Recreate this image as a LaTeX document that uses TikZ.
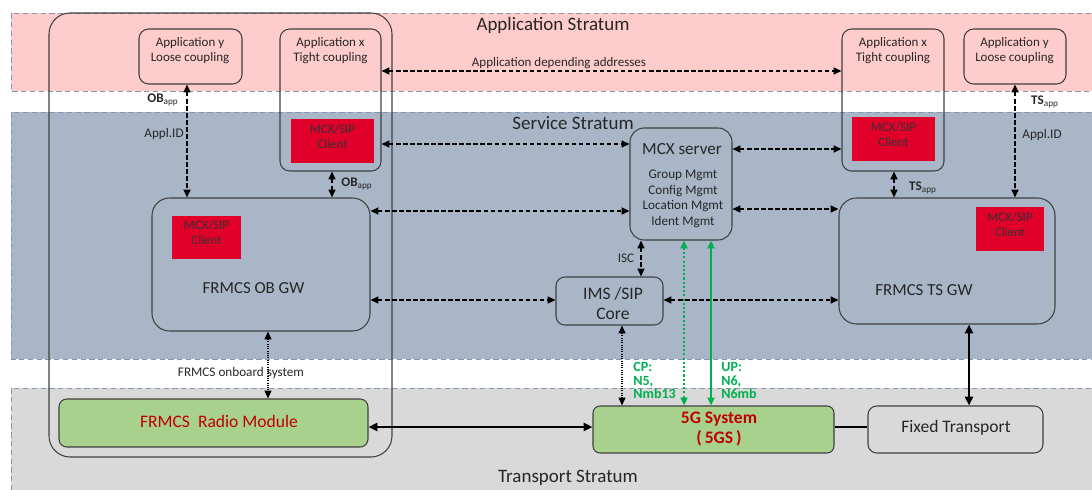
\documentclass[tikz,border=0pt]{standalone}
\usepackage{fontspec}
\setmainfont{Carlito}
\usetikzlibrary{fit,arrows.meta}
\definecolor{apppink}{HTML}{FFCCCC}
\definecolor{servblue}{HTML}{A8B6C8}
\definecolor{transgray}{HTML}{D9D9D9}
\definecolor{bandline}{HTML}{8497B0}
\definecolor{mcxred}{HTML}{E0002A}
\definecolor{radiogreen}{HTML}{A9D18E}
\definecolor{darkred}{HTML}{C00000}
\definecolor{lgreen}{HTML}{00B050}
\definecolor{edgecol}{HTML}{404040}
\definecolor{txtcol}{HTML}{262626}
\begin{document}
\begin{tikzpicture}[x=0.02cm,y=-0.02cm,
  >={Triangle[length=4.5pt,width=4pt]},
  band/.style={draw=bandline, line width=0.5pt, dash pattern=on 3pt off 2pt},
  box/.style={draw=edgecol, line width=0.6pt, inner sep=0pt, rounded corners=#1},
  box/.default=5pt,
  redbox/.style={fill=mcxred, inner sep=0pt, align=center, text=black!80,
     font=\fontsize{7.3}{8.5}\selectfont},
  txt/.style={inner sep=0pt, align=center, text=txtcol, font=\fontsize{7.4}{8.6}\selectfont},
  big/.style={inner sep=0pt, align=center, text=txtcol, font=\fontsize{10}{12}\selectfont},
  strat/.style={inner sep=0pt, text=txtcol, font=\fontsize{10.8}{13}\selectfont},
  lbl/.style={inner sep=0pt, text=txtcol, font=\fontsize{7.5}{9}\selectfont},
  dda/.style={<->, line width=0.8pt, dash pattern=on 2.5pt off 1.5pt},
  dotl/.style={<->, line width=0.7pt, dash pattern=on 0.6pt off 0.7pt},
  solidl/.style={<->, line width=1.3pt, >={Triangle[length=5pt,width=4.5pt]}},
  gdot/.style={<->, lgreen, line width=1.1pt, dash pattern=on 1.2pt off 1.2pt},
  gsolid/.style={<->, lgreen, line width=1.1pt},
  glbl/.style={inner sep=0pt, anchor=west, align=left, text=lgreen,
     font=\fontsize{8}{7.7}\selectfont\bfseries},
]
\useasboundingbox (0,0) rectangle (1092,490);
\clip (0,0) rectangle (1092,490);
% strata
\fill[apppink] (11,13) rectangle (1100,91);
\draw[band] (1100,13) -- (11,13) -- (11,91) -- (1100,91);
\fill[servblue] (11,112) rectangle (1100,359);
\draw[band] (1100,112) -- (11,112) -- (11,359) -- (1100,359);
\fill[transgray] (11,388) rectangle (1100,500);
\draw[band] (1100,388) -- (11,388) -- (11,500);
\node[strat] (appstr) at (553,25) {Application Stratum};
\node[strat] (servstr) at (573,123) {Service Stratum};
\node[strat] (transstr) at (568,478) {Transport Stratum};

% onboard system frame
\node[box=12pt, fit={(49,13) (392,457)}] (obsys) {};

% left side
\node[box=5.5pt, fit={(139,29) (242,84)}] (appyL) {};
\node[txt] (appyLt) at (190,50.5) {Application y\\Loose coupling};
\node[box=5.5pt, fit={(280,29) (381,171)}] (appxL) {};
\node[txt] (appxLt) at (330.5,50.5) {Application x\\Tight coupling};
\node[redbox, fit={(291,119) (374,163)}] (mcxL) {MCX/SIP\\Client};
\node[box=10pt, fit={(152,198) (370,331)}] (obgw) {};
\node[redbox, fit={(172,216) (241,259)}] (mcxOB) {MCX/SIP\\Client};
\node[big, font=\fontsize{9.6}{12}\selectfont] (obgwt) at (253.5,288) {FRMCS OB GW};

% centre
\node[box=8pt, fit={(630,128) (732,240)}] (mcxs) {};
\node[big, font=\fontsize{9.7}{12}\selectfont] (mcxst) at (682,149) {MCX server};
\node[txt, font=\fontsize{7.5}{8.8}\selectfont] (mcxsl) at (683,199) {Group Mgmt\\Config Mgmt\\Location Mgmt\\Ident Mgmt};
\node[box=5pt, fit={(556,277) (663,325)}] (ims) {};
\node[big, font=\fontsize{10}{11.9}\selectfont] (imst) at (613,303.5) {IMS /SIP\\Core};

% right side
\node[box=5.5pt, fit={(842,29) (944,171)}] (appxR) {};
\node[txt] (appxRt) at (893,50.5) {Application x\\Tight coupling};
\node[redbox, fit={(852,117) (935,161)}] (mcxR) {MCX/SIP\\Client};
\node[box=5.5pt, fit={(964,29) (1066,84)}] (appyR) {};
\node[txt] (appyRt) at (1014.5,50.5) {Application y\\Loose coupling};
\node[box=10pt, fit={(839,198) (1055,324)}] (tsgw) {};
\node[redbox, fit={(976,207) (1044,251)}] (mcxTS) {MCX/SIP\\Client};
\node[big, font=\fontsize{9.6}{12}\selectfont] (tsgwt) at (924,290) {FRMCS TS GW};

% transport
\node[box=4.5pt, fill=radiogreen, fit={(59,399) (368,447)}] (radio) {};
\node[big, text=darkred] (radiot) at (219,421) {FRMCS\ \ Radio Module};
\node[box=4pt, fill=radiogreen, fit={(593,406) (834,453)}] (fivegs) {};
\node[big, text=darkred, font=\fontsize{10}{11.5}\selectfont\bfseries] (fivegst) at (719,429) {5G System\\(\,5GS\,)};
\node[box=5pt, fit={(868,406) (1043,453)}] (fixed) {};
\node[big] (fixedt) at (956,428) {Fixed Transport};

% connectors
\draw[dda] (appyL.south -| 187,0) -- (obgw.north -| 187,0);
\draw[dda] (appxL.south -| 332,0) -- (obgw.north -| 332,0);
\draw[dda] (appxL.east |- 0,71) -- (appxR.west |- 0,71);
\draw[dda] (appxL.east |- 0,144) -- (mcxs.west |- 0,144);
\draw[dda] (mcxs.east |- 0,149) -- (appxR.west |- 0,149);
\draw[dda] (obgw.east |- 0,211) -- (mcxs.west |- 0,211);
\draw[dda] (mcxs.east |- 0,209) -- (tsgw.west |- 0,209);
\draw[dda] (obgw.east |- 0,300) -- (ims.west |- 0,300);
\draw[dda] (ims.east |- 0,300) -- (tsgw.west |- 0,300);
\draw[dda] (mcxs.south -| 641,0) -- (ims.north -| 641,0);
\draw[dda] (appxR.south -| 894,0) -- (tsgw.north -| 894,0);
\draw[dda] (appyR.south -| 1015,0) -- (tsgw.north -| 1015,0);
\draw[dotl] (obgw.south -| 268,0) -- (radio.north -| 268,0);
\draw[dotl] (ims.south -| 622,0) -- (fivegs.north -| 622,0);
\draw[gdot] (mcxs.south -| 684,0) -- (fivegs.north -| 684,0);
\draw[gsolid] (mcxs.south -| 711,0) -- (fivegs.north -| 711,0);
\draw[solidl] (radio.east |- 0,427) -- (fivegs.west |- 0,427);
\draw[line width=1.3pt] (fivegs.east |- 0,427) -- (fixed.west |- 0,427);
\draw[solidl] (tsgw.south -| 969,0) -- (fixed.north -| 969,0);

% labels
\node[lbl] (l1) at (163,100) {\textbf{OB}\textsubscript{app}};
\node[lbl] (l2) at (164,134) {Appl.ID};
\node[lbl] (l3) at (357,184) {\textbf{OB}\textsubscript{app}};
\node[lbl] (l4) at (923,188) {\textbf{TS}\textsubscript{app}};
\node[lbl] (l5) at (1045,102) {\textbf{TS}\textsubscript{app}};
\node[lbl] (l6) at (1042,135) {Appl.ID};
\node[lbl] (l7) at (626,258) {ISC};
\node[lbl] (l8) at (241,373) {FRMCS onboard system};
\node[lbl, font=\fontsize{7.4}{9}\selectfont] (l9) at (559,63) {Application depending addresses};
\node[glbl] (cp) at (633,380.5) {CP:\\N5,\\Nmb13};
\node[glbl] (up) at (721,380.5) {UP:\\N6,\\N6mb};
\end{tikzpicture}
\end{document}
